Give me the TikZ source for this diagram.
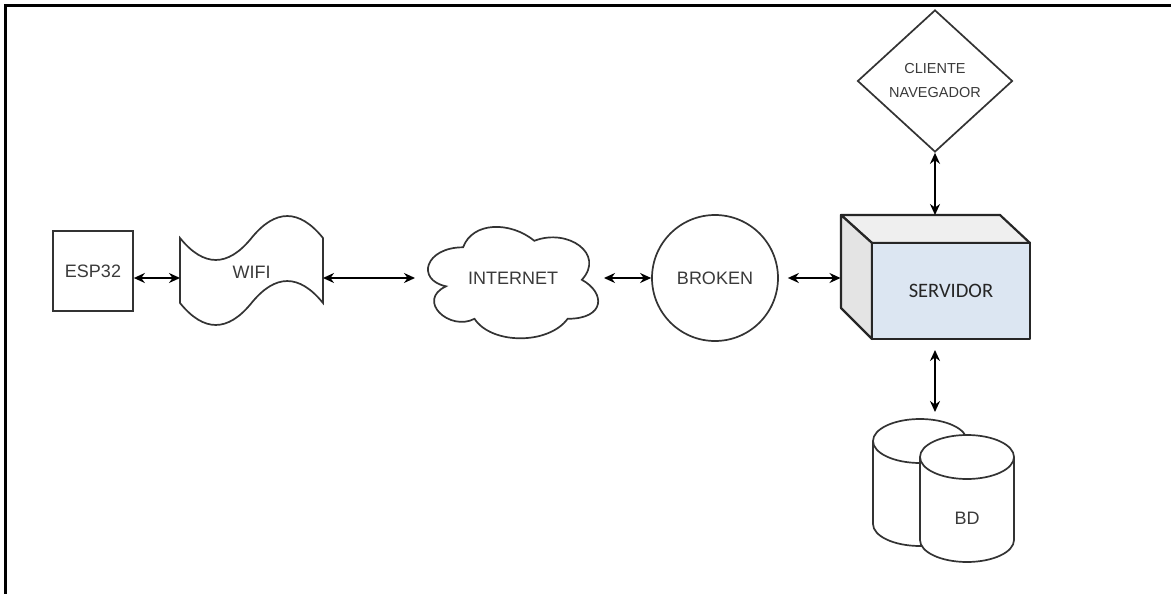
\documentclass[tikz,border=0pt]{standalone}
\usepackage{fontspec}
\setmainfont{Liberation Sans}
\newfontfamily\calib{Carlito}
\usetikzlibrary{arrows.meta,shapes.geometric}
\definecolor{txtgrey}{HTML}{3A3A3A}
\definecolor{frontblue}{HTML}{DCE6F2}
\definecolor{topgrey}{HTML}{EFEFEF}
\definecolor{sidegrey}{HTML}{E4E4E4}
\begin{document}
\begin{tikzpicture}[x=1pt,y=-1pt,
 shp/.style={draw=black!80, line width=1.7pt},
 srv/.style={draw=black!85, line width=2.2pt, line join=round},
 lbl/.style={text=txtgrey, font=\fontsize{18}{21}\selectfont},
 biarrow/.style={line width=1.8pt, {Stealth[length=11pt,width=10pt]}-{Stealth[length=11pt,width=10pt]}},
 ghost/.style={inner sep=0pt, outer sep=0pt}
]
\useasboundingbox (0,0) rectangle (1171,594);
\fill[white] (0,0) rectangle (1171,594);
\draw[line width=3pt] (5.3,594) -- (5.3,5.7) -- (1171,5.7);

% ESP32
\node[shp, lbl, minimum width=80pt, minimum height=80pt, inner sep=0pt] (esp) at (93,271) {ESP32};

% WIFI tape
\draw[shp] (180,238) .. controls (203.8,267.3) and (227.7,267.3) .. (251.5,238)
  .. controls (275.3,208.7) and (299.2,208.7) .. (323,238) -- (323,303)
  .. controls (299.2,273.7) and (275.3,273.7) .. (251.5,303)
  .. controls (227.7,332.3) and (203.8,332.3) .. (180,303) -- cycle;
\node[ghost, lbl, minimum width=143pt, minimum height=60pt] (wifi) at (251.5,272) {WIFI};

% INTERNET cloud
\draw[shp] (463.1,247.3) .. controls (425.1,247.3) and (415.6,279.8) .. (446.0,286.3)
  .. controls (415.6,300.6) and (449.8,331.8) .. (474.5,318.8)
  .. controls (491.6,344.8) and (548.6,344.8) .. (567.6,318.8)
  .. controls (605.6,318.8) and (605.6,292.8) .. (581.85,279.8)
  .. controls (605.6,253.8) and (567.6,227.8) .. (534.35,240.8)
  .. controls (510.6,221.3) and (472.6,221.3) .. (463.1,247.3) -- cycle;
\node[ghost, lbl, minimum width=170pt, minimum height=108pt] (cloud) at (513,278) {INTERNET};

% BROKEN
\node[shp, lbl, circle, minimum size=126pt, inner sep=0pt] (broken) at (715,278) {BROKEN};

% SERVIDOR
\node[ghost, minimum width=189pt, minimum height=126pt] (server) at (935,278) {};
\filldraw[srv, fill=topgrey] (841,215) -- (1000,215) -- (1030,243) -- (872,243) -- cycle;
\filldraw[srv, fill=sidegrey] (841,215) -- (872,243) -- (872,339) -- (841,308) -- cycle;
\node[srv, fill=frontblue, minimum width=158pt, minimum height=96pt, inner sep=0pt,
  text=black!85, font=\calib\fontsize{20.5}{24}\selectfont] (front) at (951,291) {SERVIDOR};

% CLIENTE NAVEGADOR
\node[shp, diamond, minimum width=155pt, minimum height=142pt, inner sep=0pt, align=center,
  text=txtgrey, font=\fontsize{14.5}{24}\selectfont] (client) at (935,81) {CLIENTE\\NAVEGADOR};

% BD
\filldraw[shp, fill=white] (873,441) -- (873,524)
  arc[start angle=180, end angle=360, x radius=47pt, y radius=22pt] -- (967,441)
  arc[start angle=0, end angle=180, x radius=47pt, y radius=22pt] -- cycle;
\draw[shp] (873,441) arc[start angle=180, end angle=360, x radius=47pt, y radius=22pt];
\filldraw[shp, fill=white] (920,457) -- (920,540)
  arc[start angle=180, end angle=360, x radius=47pt, y radius=22pt] -- (1014,457)
  arc[start angle=0, end angle=180, x radius=47pt, y radius=22pt] -- cycle;
\draw[shp] (920,457) arc[start angle=180, end angle=360, x radius=47pt, y radius=22pt];
\node[lbl] (bd) at (967,518) {BD};
\coordinate (bdin) at (935,412);

% connectors
\draw[biarrow] ([yshift=-7pt]esp.east) -- ([yshift=-6pt]wifi.west);
\draw[biarrow, shorten >=13pt] ([yshift=-6pt]wifi.east) -- (cloud.west);
\draw[biarrow, shorten <=6pt] (cloud.east) -- (broken.west);
\draw[biarrow, shorten <=9pt] (broken.east) -- (server.west);
\draw[biarrow] (client.south) -- (server.north);
\draw[biarrow, shorten <=9pt] (server.south) -- (bdin);
\end{tikzpicture}
\end{document}
